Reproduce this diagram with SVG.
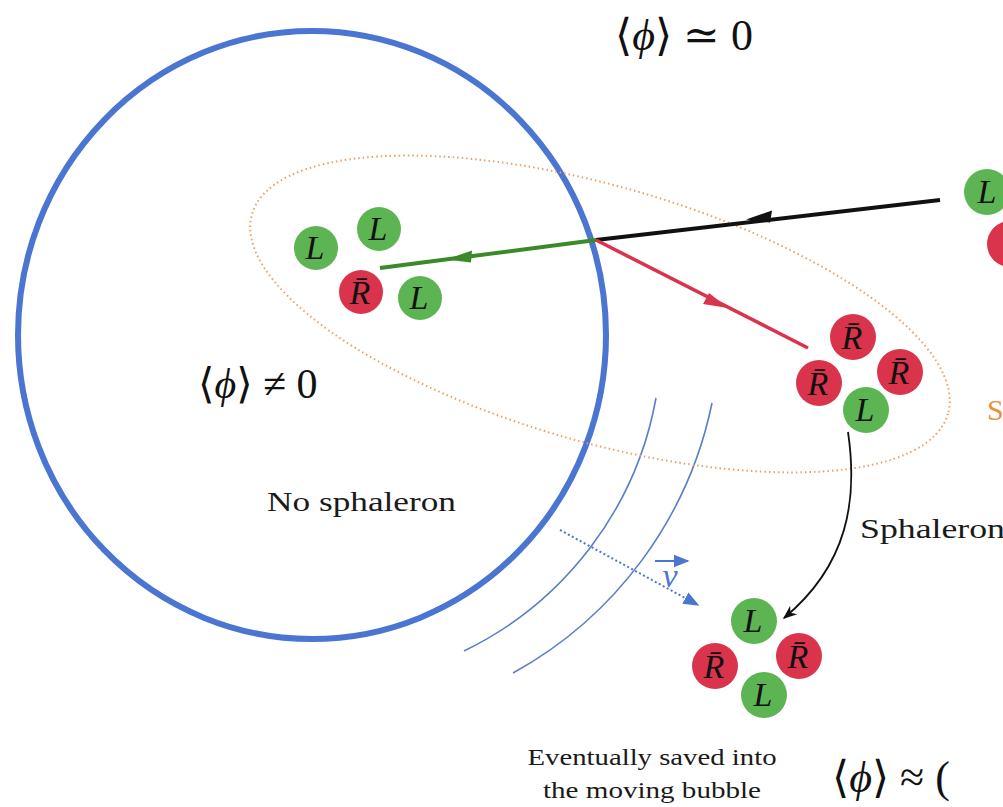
<svg xmlns="http://www.w3.org/2000/svg" width="1003" height="807" viewBox="0 0 1003 807">
<style>
.g{fill:#5cb552}
.r{fill:#d9344c}
.pl{font-family:"Liberation Serif",serif;font-style:italic;font-size:34px;fill:#111;text-anchor:middle}
.math{font-family:"Liberation Serif","DejaVu Serif",serif;fill:#111}
.lbl{font-family:"Liberation Serif",serif;fill:#1a1a1a}
</style>
<defs>
<marker id="hk" viewBox="0 0 10 10" refX="9" refY="5" markerWidth="14" markerHeight="14" orient="auto" markerUnits="userSpaceOnUse"><path d="M0,1 L10,5 L0,9 L3,5 z" fill="#111"/></marker>
<marker id="hb" viewBox="0 0 10 10" refX="9" refY="5" markerWidth="16" markerHeight="16" orient="auto" markerUnits="userSpaceOnUse"><path d="M0,1 L10,5 L0,9 z" fill="#4a76d2"/></marker>
</defs>

<g id="bubble">
<ellipse cx="312" cy="335" rx="294" ry="304" fill="none" stroke="#4a76d2" stroke-width="6"/>
</g>
<g id="wall-arcs" fill="none" stroke="#5a7fc8" stroke-width="1.6">
<path d="M656,398 A350,350 0 0 1 464,651"/>
<path d="M712,403 A400,400 0 0 1 513,673"/>
</g>
<g id="sphaleron-region">
<ellipse cx="600" cy="314" rx="362" ry="128" transform="rotate(16 600 314)" fill="none" stroke="#e8a265" stroke-width="2" stroke-dasharray="1.5 3"/>
</g>

<g id="connectors">
<line x1="940" y1="200" x2="596" y2="240" stroke="#111" stroke-width="4"/>
<path d="M746,219.5 l26,-9 l-2,12 z" fill="#111"/>
<line x1="596" y1="240" x2="380" y2="268" stroke="#3a8a2a" stroke-width="4"/>
<path d="M446,259.5 l26,-9 l-1,12 z" fill="#3a8a2a"/>
<line x1="596" y1="240" x2="808" y2="348" stroke="#d9344c" stroke-width="3.5"/>
<path d="M728,308 l-25,-4 l6,-11 z" fill="#d9344c"/>
<path d="M848,432 C858,500 848,565 784,618" fill="none" stroke="#111" stroke-width="1.8" marker-end="url(#hk)"/>
<line x1="560" y1="530" x2="698" y2="605" stroke="#4a76d2" stroke-width="2" stroke-dasharray="2 2.5" marker-end="url(#hb)"/>
</g>

<g id="group-inside">
<circle class="g" cx="316" cy="248" r="22"/><text class="pl" x="315" y="259">L</text>
<circle class="g" cx="379" cy="229" r="22"/><text class="pl" x="378" y="240">L</text>
<circle class="r" cx="361" cy="292" r="22"/><text class="pl" x="360" y="304">R̄</text>
<circle class="g" cx="420" cy="298" r="22"/><text class="pl" x="419" y="309">L</text>
</g>
<g id="group-sphaleron">
<circle class="r" cx="853" cy="337" r="23"/><text class="pl" x="852" y="349">R̄</text>
<circle class="r" cx="900" cy="372" r="23"/><text class="pl" x="899" y="384">R̄</text>
<circle class="r" cx="819" cy="383" r="23"/><text class="pl" x="818" y="395">R̄</text>
<circle class="g" cx="866" cy="410" r="23"/><text class="pl" x="865" y="421">L</text>
</g>
<g id="group-saved">
<circle class="g" cx="754" cy="621" r="23"/><text class="pl" x="753" y="632">L</text>
<circle class="r" cx="799" cy="656" r="23"/><text class="pl" x="798" y="668">R̄</text>
<circle class="r" cx="715" cy="666" r="23"/><text class="pl" x="714" y="678">R̄</text>
<circle class="g" cx="764" cy="695" r="23"/><text class="pl" x="763" y="706">L</text>
</g>
<g id="group-incoming">
<circle class="g" cx="987" cy="192" r="23"/><text class="pl" x="987" y="203">L</text>
<circle class="r" cx="1010" cy="244" r="23"/>
</g>

<g id="labels">
<text class="math" x="615" y="50" font-size="44">⟨<tspan font-style="italic">ϕ</tspan>⟩ ≃ 0</text>
<text class="math" x="198" y="398" font-size="42">⟨<tspan font-style="italic">ϕ</tspan>⟩ ≠ 0</text>
<text class="math" x="832" y="792" font-size="44">⟨<tspan font-style="italic">ϕ</tspan>⟩ ≈ (</text>
<text class="lbl" x="267" y="511" font-size="27" textLength="189" lengthAdjust="spacingAndGlyphs">No sphaleron</text>
<text class="lbl" x="860" y="538" font-size="28" textLength="145" lengthAdjust="spacingAndGlyphs">Sphaleron</text>
<text class="lbl" x="987" y="420" font-size="30" style="fill:#e8913a">S</text>
<text class="lbl" x="652" y="765" font-size="24" text-anchor="middle" textLength="249" lengthAdjust="spacingAndGlyphs">Eventually saved into</text>
<text class="lbl" x="652" y="798" font-size="24" text-anchor="middle" textLength="218" lengthAdjust="spacingAndGlyphs">the moving bubble</text>
<text x="670" y="587" font-family="Liberation Serif,serif" font-style="italic" font-size="34" fill="#4a76d2" text-anchor="middle">v</text>
<line x1="655" y1="561" x2="688" y2="561" stroke="#4a76d2" stroke-width="1.8" marker-end="url(#hb)"/>
</g>
</svg>
